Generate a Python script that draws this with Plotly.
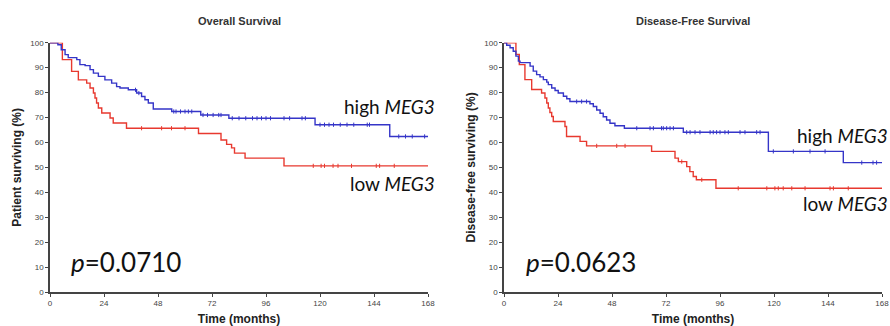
import plotly.graph_objects as go
import numpy as np

# ---------------- data ----------------
# Overall survival (left)
os_high_t = [0, 3.5, 5, 6.7, 8.1, 11.9, 13.3, 15.6, 17.8, 19.3, 21.5, 24.4, 27.4, 29.6, 31.1, 34.8,
             38.5, 40.7, 42.2, 43.7, 45.9, 54.1, 67, 79.5, 117.8, 151, 168]
os_high_v = [100, 99.2, 97.2, 95.2, 94, 93.2, 91.2, 90.8, 89.2, 87.8, 86.5, 85.1, 83.8, 82.4, 81.8, 81.1,
             79.8, 78.4, 77.1, 75.8, 73.4, 72.4, 71.0, 69.7, 67.1, 62.4, 62.4]
os_low_t = [0, 5.5, 9.6, 12.6, 16.3, 17.8, 19.3, 20, 20.7, 21.5, 23, 26.7, 28.1, 34, 66, 76, 78.5,
            80.7, 82, 86.7, 104, 168]
os_low_v = [100, 93.2, 88.5, 85.1, 83.8, 81.8, 79.8, 77.8, 75.8, 73.8, 71.8, 69.8, 67.8, 65.7, 63.6, 61,
            59.2, 57.8, 55.7, 53.7, 50.6, 50.6]
os_high_cens = [38, 39.5, 55, 56, 58, 60, 61.5, 63, 68, 70, 72.5, 75, 76, 81, 84, 87, 90, 92, 94, 96, 98,
                104, 106.5, 112, 113.5, 120, 122, 124, 126, 129, 132, 135, 141, 142, 155, 158, 161, 166.5]
os_low_cens = [40.7, 49.6, 54, 60, 117, 120.5, 122, 125.8, 128, 134, 145, 146.5, 153]

# Disease-free survival (right)
dfs_high_t = [0, 1.2, 2.7, 4.1, 5.3, 6.4, 7.1, 11.6, 13, 14.5, 16, 17.5, 19, 19.7, 21.2, 22.7, 24.1, 26.4,
              27.9, 29.3, 38.2, 39.7, 41.2, 42.7, 44.1, 45.6, 47.1, 49.3, 53.5, 79.7, 117.5, 150.8, 168]
dfs_high_v = [100, 99, 98, 96.6, 94.6, 92.6, 92, 90.6, 88.6, 87.2, 86.3, 85.2, 84.2, 83.2, 81.8, 80.8, 79.8,
              78.5, 77.5, 76.4, 75.5, 74.4, 73, 71.7, 70.3, 69, 67.7, 66.7, 65.7, 64.1, 56.4, 51.9, 51.9]
dfs_low_t = [0, 5.3, 6.8, 9.3, 12.3, 16.7, 18.2, 19, 19.7, 20.4, 21.2, 21.9, 27.1, 27.8, 33.8, 36.7, 65.6,
             76, 77.5, 81.2, 82.6, 84.1, 85.5, 94.2, 168]
dfs_low_v = [100, 95.3, 91.2, 85.2, 81.2, 79.8, 77.8, 75.8, 73.8, 72, 70.4, 68.4, 66.4, 62.4, 60.4, 58.6,
             56.4, 53.7, 52.3, 50.3, 48.3, 46.3, 45, 41.6, 41.6]
dfs_high_cens = [32.3, 34.5, 36.7, 59, 64.9, 66.4, 70, 70.8, 72.3, 73.8, 75.3, 81.2, 82.7, 84.9, 87.1, 91.6,
                 93, 94.5, 96, 98.2, 99.7, 104.9, 107.1, 112.3, 113.8, 119.7, 128.6, 136, 142.7, 159, 164, 165.6]
dfs_low_cens = [41.2, 50.1, 53.8, 79, 87.9, 104.1, 116.8, 120.4, 121.9, 124.1, 127.9, 133.8, 144.9,
                146.4, 153]

x_ticks = [0, 24, 48, 72, 96, 120, 144, 168]
y_ticks = [0, 10, 20, 30, 40, 50, 60, 70, 80, 90, 100]
titles = ["Overall Survival", "Disease-Free Survival"]
y_titles = ["Patient surviving (%)", "Disease-free surviving (%)"]
p_values = ["0.0710", "0.0623"]

BLUE = "#3535c8"
RED = "#e8392f"
W, H = 890, 326


def step_at(ts, vs, c):
    idx = np.searchsorted(np.array(ts), c, side="right") - 1
    return vs[max(idx, 0)]


fig = go.Figure()

panels = [
    (os_high_t, os_high_v, os_high_cens, os_low_t, os_low_v, os_low_cens, "x", "y"),
    (dfs_high_t, dfs_high_v, dfs_high_cens, dfs_low_t, dfs_low_v, dfs_low_cens, "x2", "y2"),
]
for (ht, hv, hc, lt, lv, lc, xa, ya) in panels:
    for ts, vs, cs, col in [(lt, lv, lc, RED), (ht, hv, hc, BLUE)]:
        fig.add_trace(go.Scatter(x=ts, y=vs, mode="lines", line=dict(color=col, width=1.4, shape="hv"),
                                 xaxis=xa, yaxis=ya, showlegend=False, cliponaxis=False, hoverinfo="skip"))
        fig.add_trace(go.Scatter(x=cs, y=[step_at(ts, vs, c) for c in cs], mode="markers",
                                 marker=dict(symbol="line-ns", size=3, line=dict(color=col, width=1)),
                                 xaxis=xa, yaxis=ya, showlegend=False, cliponaxis=False, hoverinfo="skip"))

ydom = [(H - 292) / H, (H - 42.7) / H]
xdoms = [[50 / W, 428 / W], [504 / W, 882 / W]]
tickfont = dict(family="Liberation Sans, Arial", size=8, color="#444444")
titlefont = dict(family="Liberation Sans, Arial", size=12, color="#222222")
ax_common = dict(showgrid=False, zeroline=False, showline=True, linecolor="#444444", linewidth=1.5,
                 ticks="outside", ticklen=3, tickwidth=1, tickcolor="#444444", tickfont=tickfont,
                 automargin=False)
for i, xa in enumerate(["xaxis", "xaxis2"]):
    ya = "yaxis" if i == 0 else "yaxis2"
    fig.update_layout({
        xa: dict(domain=xdoms[i], range=[0, 168], tickvals=x_ticks, anchor="y" if i == 0 else "y2",
                 title=dict(text="<b>Time (months)</b>", font=titlefont, standoff=8), **ax_common),
        ya: dict(domain=ydom, range=[0, 100], tickvals=y_ticks, anchor="x" if i == 0 else "x2",
                 title=dict(text="<b>" + y_titles[i] + "</b>", font=titlefont, standoff=6), **ax_common),
    })

ann = []
for i in range(2):
    cx = (xdoms[i][0] + xdoms[i][1]) / 2
    ann.append(dict(text="<b>" + titles[i] + "</b>", x=cx, y=1 - 21 / H, xref="paper", yref="paper",
                    showarrow=False, xanchor="center", yanchor="middle",
                    font=dict(family="Liberation Sans, Arial", size=11, color="#333333")))
lab_font = dict(family="Lato", size=19, color="#111111")
p_font = dict(family="Lato", size=26, color="#111111")
ann += [
    dict(text="high <i>MEG3</i>", x=436 / W, y=1 - 106 / H, xanchor="right", yanchor="middle", font=lab_font),
    dict(text="low <i>MEG3</i>", x=436 / W, y=1 - 183 / H, xanchor="right", yanchor="middle", font=lab_font),
    dict(text="<i>p</i>=" + p_values[0], x=70 / W, y=1 - 262 / H, xanchor="left", yanchor="middle", font=p_font),
    dict(text="high <i>MEG3</i>", x=889 / W, y=1 - 135 / H, xanchor="right", yanchor="middle", font=lab_font),
    dict(text="low <i>MEG3</i>", x=889 / W, y=1 - 203 / H, xanchor="right", yanchor="middle", font=lab_font),
    dict(text="<i>p</i>=" + p_values[1], x=525 / W, y=1 - 262 / H, xanchor="left", yanchor="middle", font=p_font),
]
for a in ann[2:]:
    a.update(xref="paper", yref="paper", showarrow=False, borderpad=0)
fig.update_layout(annotations=ann, width=W, height=H, margin=dict(l=0, r=0, t=0, b=0),
                  paper_bgcolor="white", plot_bgcolor="white")

fig.write_html("out.html", config={"displayModeBar": False},
               post_script="document.body.style.margin='0px';")
